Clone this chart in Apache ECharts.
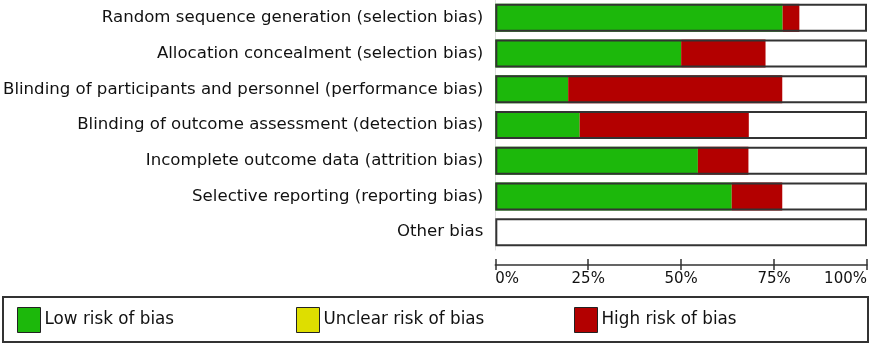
<!DOCTYPE html>
<html>
<head>
<meta charset="utf-8">
<script src="https://cdn.jsdelivr.net/npm/echarts@6/dist/echarts.min.js"></script>
<style>
  html, body { margin: 0; padding: 0; background: #fff; }
  #chart { width: 872px; height: 345px; }
</style>
</head>
<body>
<div id="chart"></div>
<script>
var domains = [
    'Random sequence generation (selection bias)',
    'Allocation concealment (selection bias)',
    'Blinding of participants and personnel (performance bias)',
    'Blinding of outcome assessment (detection bias)',
    'Incomplete outcome data (attrition bias)',
    'Selective reporting (reporting bias)',
    'Other bias'
];
// percent of studies per judgement
var lowRisk     = [77.3, 50.0, 19.6, 22.7, 54.5, 63.6, 0];
var unclearRisk = [0, 0, 0, 0, 0, 0, 0];
var highRisk    = [4.5, 22.7, 57.6, 45.5, 13.6, 13.6, 0];
var fullScale   = [100, 100, 100, 100, 100, 100, 100];
var tickLabels  = ['0%', '25%', '50%', '75%', '100%'];

var chart = echarts.init(document.getElementById('chart'));

var font = 'DejaVu Sans';
var frameColor = '#333';

function legendAt(name, x) {
    return {
        data: [name],
        left: x,
        top: 307,
        padding: 0,
        icon: 'rect',
        itemWidth: 23,
        itemHeight: 25,
        itemGap: 5,
        selectedMode: false,
        itemStyle: { borderColor: '#222', borderWidth: 1 },
        textStyle: { fontFamily: font, fontSize: 16.8, color: '#111', padding: [0, 0, 0, -1] }
    };
}

var option = {
    animation: false,
    backgroundColor: '#fff',
    grid: { left: 495, right: 5, top: -2, height: 252 },
    legend: [
        legendAt('Low risk of bias', 17),
        legendAt('Unclear risk of bias', 296),
        legendAt('High risk of bias', 574)
    ],
    graphic: [{
        type: 'rect',
        shape: { x: 3, y: 297, width: 865, height: 45 },
        style: { fill: 'none', stroke: frameColor, lineWidth: 2 },
        silent: true
    }],
    xAxis: [{
        type: 'value',
        min: 0,
        max: 100,
        interval: 25,
        position: 'bottom',
        offset: 15,
        axisLine: { show: true, lineStyle: { color: frameColor, width: 1.5 } },
        axisTick: { show: true, length: 5, lineStyle: { color: frameColor, width: 1.5 } },
        splitLine: { show: false },
        axisLabel: {
            margin: 7,
            fontFamily: font,
            fontSize: 15,
            color: '#111',
            alignMinLabel: 'left',
            alignMaxLabel: 'right',
            formatter: function (v) { return tickLabels[Math.round(v / 25)]; }
        }
    }, {
        type: 'value',
        min: 0,
        max: 100,
        interval: 25,
        position: 'bottom',
        offset: 15,
        axisLine: { show: false },
        axisTick: { show: true, inside: true, length: 6, lineStyle: { color: frameColor, width: 1.5 } },
        splitLine: { show: false },
        axisLabel: { show: false }
    }],
    yAxis: {
        type: 'category',
        inverse: true,
        data: domains,
        axisLine: { show: true, lineStyle: { color: '#ddd', width: 1 } },
        axisTick: { show: false },
        axisLabel: { margin: 12, fontFamily: font, fontSize: 16.6, color: '#111' }
    },
    series: [{
        name: 'Low risk of bias',
        type: 'bar',
        stack: 'rob',
        barWidth: 28,
        barGap: '-100%',
        data: lowRisk,
        itemStyle: { color: '#1cb80b' }
    }, {
        name: 'Unclear risk of bias',
        type: 'bar',
        stack: 'rob',
        barWidth: 28,
        data: unclearRisk,
        itemStyle: { color: '#dede00' }
    }, {
        name: 'High risk of bias',
        type: 'bar',
        stack: 'rob',
        barWidth: 28,
        data: highRisk,
        itemStyle: { color: '#b30000' }
    }, {
        name: 'frame',
        type: 'bar',
        barWidth: 28,
        barGap: '-100%',
        z: 5,
        silent: true,
        data: fullScale,
        itemStyle: { color: 'rgba(0,0,0,0)', borderColor: frameColor, borderWidth: 2 }
    }]
};

chart.setOption(option);
</script>
</body>
</html>
